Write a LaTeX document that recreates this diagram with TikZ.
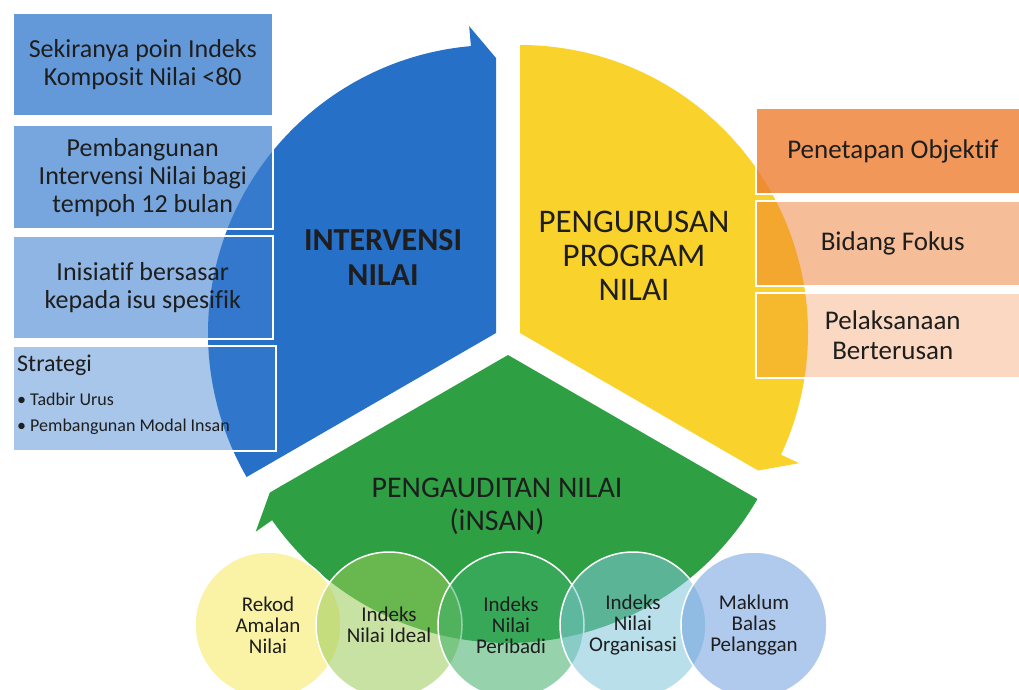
\documentclass[tikz,border=0pt]{standalone}
\usepackage{fontspec}
\setmainfont{Carlito}[Ligatures=NoCommon]
\usetikzlibrary{calc}

\definecolor{segblue}{HTML}{2670C8}
\definecolor{segyellow}{HTML}{FAD22C}
\definecolor{seggreen}{HTML}{2EA043}
\definecolor{boxblue}{HTML}{3D7FD0}
\definecolor{boxorange}{HTML}{ED7D31}
\definecolor{ringyellow}{HTML}{F5E85A}
\definecolor{ringlime}{HTML}{9BCB5A}
\definecolor{ringgreen}{HTML}{3FAE6A}
\definecolor{ringteal}{HTML}{7FC6D9}
\definecolor{ringblue}{HTML}{6F9FDF}
\definecolor{inktext}{HTML}{1E1E1E}

\newcommand{\segRadius}{288}
\newcommand{\segEdge}{275}
\newcommand{\segBarb}{308}

% one slice of the cycle, with its barb at the start angle
\newcommand{\cycleSlice}[4]{%
  \pgfmathsetmacro{\barbAngle}{#2+5}
  \fill[#4] (#1) -- ++(#2:\segEdge) -- ($(#1)+(\barbAngle:\segBarb)$)
    -- ($(#1)+(\barbAngle:\segRadius)$)
    arc[start angle=\barbAngle, end angle=#3, radius=\segRadius pt] -- cycle;}

\tikzset{
  segtitle/.style={text=inktext, align=center, font=\fontsize{30}{33}\selectfont},
  leftbox/.style={draw=white, line width=1.5pt, fill=boxblue, fill opacity=#1,
    text opacity=1, text=inktext, anchor=north west, align=center, inner sep=0pt,
    minimum width=260pt, minimum height=102pt, font=\fontsize{26}{28}\selectfont},
  rightbox/.style={draw=white, line width=1.5pt, fill=boxorange, fill opacity=#1,
    text opacity=1, text=inktext, anchor=north west, align=center, inner sep=0pt,
    minimum width=274pt, minimum height=85pt, font=\fontsize{27}{30}\selectfont},
  ring/.style={circle, draw=white, line width=1.5pt, fill=#1, fill opacity=0.55,
    text opacity=1, text=inktext, minimum size=146pt, inner sep=0pt, align=center,
    font=\fontsize{21}{21}\selectfont},
  bulletline/.style={anchor=base west, inner sep=0pt, text=inktext}
}

\begin{document}
\begin{tikzpicture}[x=1pt, y=1pt]
\useasboundingbox (0,0) rectangle (1019,-690);

\coordinate (blueapex) at (496,-333);
\coordinate (yellowapex) at (520,-333);
\coordinate (greenapex) at (508,-355);

% the three slices
\cycleSlice{blueapex}{90}{210}{segblue}
\cycleSlice{yellowapex}{-30}{90}{segyellow}
\cycleSlice{greenapex}{210}{330}{seggreen}

\node[segtitle, font=\bfseries\fontsize{32}{35}\selectfont] (intervensi) at (383,-258) {INTERVENSI\\NILAI};
\node[segtitle, font=\fontsize{33}{34}\selectfont] (pengurusan) at (634,-256) {PENGURUSAN\\PROGRAM\\NILAI};
\node[segtitle] (pengauditan) at (497,-506) {PENGAUDITAN NILAI\\(iNSAN)};

% left column
\node[leftbox=0.8] (komposit) at (12,-13) {Sekiranya poin Indeks\\Komposit Nilai <80};
\node[leftbox=0.7, minimum height=103pt] (pembangunan) at (12,-125) {Pembangunan\\Intervensi Nilai bagi\\tempoh 12 bulan};
\node[leftbox=0.58, minimum height=103pt] (inisiatif) at (12,-235) {Inisiatif bersasar\\kepada isu spesifik};
\node[leftbox=0.45, minimum width=263pt, minimum height=105pt] (strategi) at (12,-345) {};
\node[bulletline, font=\fontsize{24}{26}\selectfont] (strategititle) at (17,-371) {Strategi};
\node[bulletline, font=\fontsize{18}{22}\selectfont] (tadbir) at (17,-405) {\textbullet\ Tadbir Urus};
\node[bulletline, font=\fontsize{18}{22}\selectfont] (modal) at (17,-431) {\textbullet\ Pembangunan Modal Insan};

% right column
\node[rightbox=0.8] (objektif) at (755,-108) {Penetapan Objektif};
\node[rightbox=0.5] (fokus) at (755,-200) {Bidang Fokus};
\node[rightbox=0.3] (pelaksanaan) at (755,-292) {Pelaksanaan\\Berterusan};

% audit circles
\node[ring=ringyellow] (rekod) at (268,-625) {Rekod\\Amalan\\Nilai};
\node[ring=ringlime] (ideal) at (389,-625) {Indeks\\Nilai Ideal};
\node[ring=ringgreen] (peribadi) at (511,-625) {Indeks\\Nilai\\Peribadi};
\node[ring=ringteal] (organisasi) at (633,-625) {Indeks\\Nilai\\Organisasi};
\node[ring=ringblue] (maklum) at (754,-625) {Maklum\\Balas\\Pelanggan};
\end{tikzpicture}
\end{document}
